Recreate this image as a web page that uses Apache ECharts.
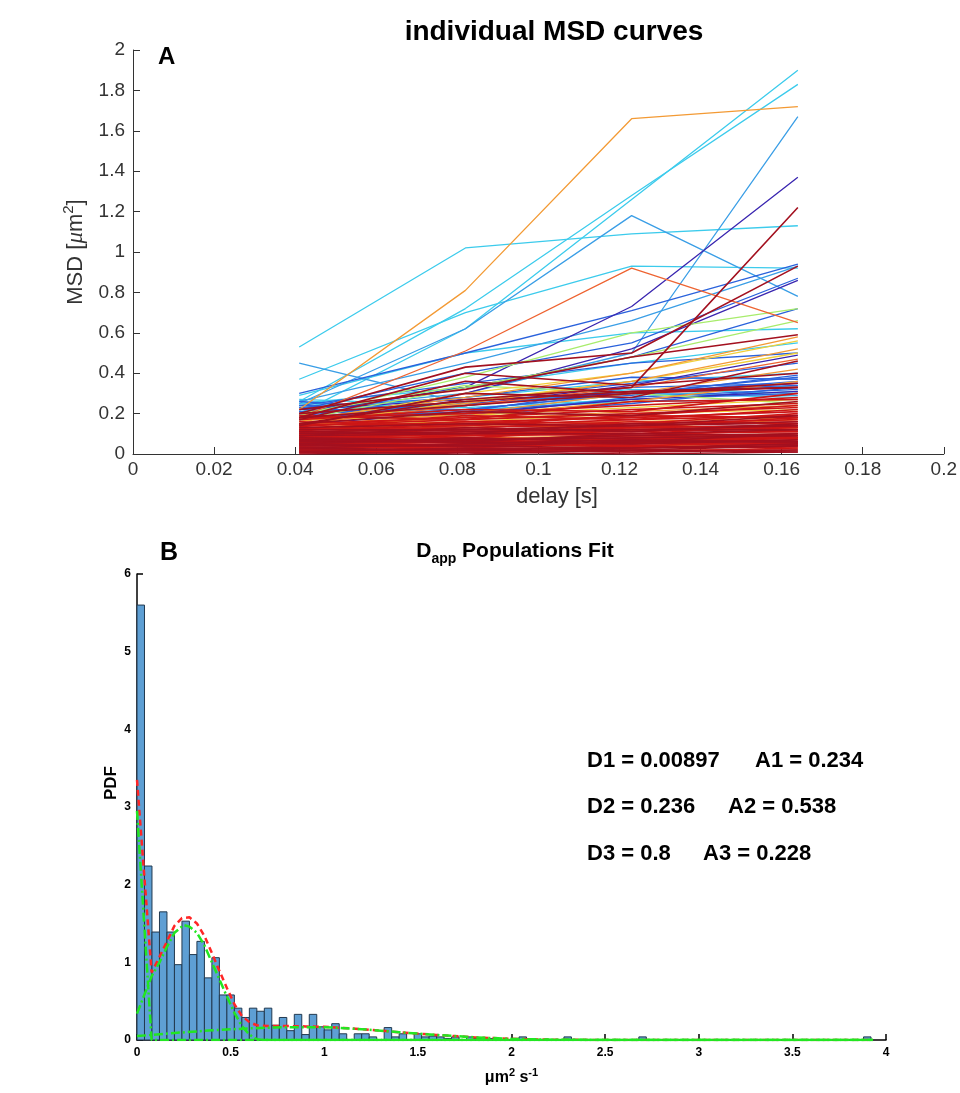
<!DOCTYPE html>
<html><head><meta charset="utf-8">
<script src="https://cdn.jsdelivr.net/npm/echarts@6/dist/echarts.min.js"></script>
<style>html,body{margin:0;padding:0;background:#fff}#c{width:960px;height:1093px}</style>
</head><body><div id="c"></div>
<script>
// ---------- Panel A data : MSD values at each delay ----------
const delays = [0.041, 0.082, 0.123, 0.164];

const msdCyan = [
  [0.20, 0.62, 1.26, 1.90],
  [0.26, 0.72, 1.28, 1.83],
  [0.53, 1.02, 1.09, 1.13],
  [0.37, 0.70, 0.93, 0.92],
  [0.29, 0.50, 0.60, 0.62],
  [0.25, 0.33, 0.45, 0.55],
  [0.22, 0.28, 0.36, 0.40],
  [0.27, 0.24, 0.32, 0.30],
  [0.24, 0.20, 0.28, 0.34],
  [0.21, 0.22, 0.26, 0.27],
  [0.25, 0.23, 0.27, 0.31],
  [0.22, 0.20, 0.30, 0.28]
];
const msdSky = [
  [0.45, 0.25, 0.30, 0.29],
  [0.25, 0.62, 1.18, 0.78],
  [0.22, 0.30, 0.50, 1.67],
  [0.26, 0.45, 0.66, 0.93]
];
const msdBlue = [
  [0.30, 0.50, 0.71, 0.94],
  [0.22, 0.40, 0.55, 0.87],
  [0.20, 0.33, 0.48, 0.72],
  [0.24, 0.35, 0.45, 0.50],
  [0.19, 0.26, 0.35, 0.45],
  [0.23, 0.28, 0.38, 0.37],
  [0.18, 0.22, 0.30, 0.36],
  [0.21, 0.19, 0.25, 0.33],
  [0.17, 0.21, 0.27, 0.30],
  [0.24, 0.22, 0.30, 0.38],
  [0.26, 0.21, 0.33, 0.35],
  [0.20, 0.24, 0.31, 0.34],
  [0.23, 0.19, 0.28, 0.32],
  [0.21, 0.25, 0.29, 0.39]
];
const msdNavy = [
  [0.20, 0.33, 0.73, 1.37],
  [0.16, 0.30, 0.52, 0.86],
  [0.18, 0.24, 0.34, 0.49],
  [0.22, 0.27, 0.30, 0.35],
  [0.15, 0.20, 0.27, 0.31]
];
const msdGreen = [
  [0.19, 0.38, 0.60, 0.72],
  [0.17, 0.33, 0.48, 0.66],
  [0.20, 0.34, 0.30, 0.25]
];
const msdYellow = [
  [0.16, 0.30, 0.40, 0.56],
  [0.14, 0.26, 0.36, 0.50],
  [0.08, 0.10, 0.12, 0.14],
  [0.17, 0.19, 0.23, 0.27],
  [0.14, 0.16, 0.20, 0.22]
];
const msdOrange = [
  [0.22, 0.81, 1.66, 1.72],
  [0.17, 0.28, 0.40, 0.58],
  [0.16, 0.25, 0.36, 0.52],
  [0.14, 0.20, 0.30, 0.42],
  [0.12, 0.19, 0.26, 0.36],
  [0.03, 0.04, 0.04, 0.05],
  [0.06, 0.08, 0.09, 0.10],
  [0.09, 0.09, 0.12, 0.13],
  [0.12, 0.15, 0.16, 0.18],
  [0.15, 0.17, 0.21, 0.24],
  [0.02, 0.05, 0.06, 0.08],
  [0.10, 0.14, 0.13, 0.17]
];
const msdOrangeRed = [
  [0.18, 0.51, 0.92, 0.65],
  [0.15, 0.24, 0.33, 0.47]
];
const msdRed = [
  [0.01, 0.01, 0.02, 0.02], [0.02, 0.03, 0.03, 0.04], [0.03, 0.04, 0.05, 0.05],
  [0.04, 0.05, 0.06, 0.07], [0.05, 0.06, 0.07, 0.08], [0.06, 0.07, 0.08, 0.10],
  [0.07, 0.09, 0.10, 0.11], [0.08, 0.10, 0.11, 0.13], [0.09, 0.11, 0.13, 0.14],
  [0.10, 0.12, 0.14, 0.16], [0.11, 0.13, 0.15, 0.17], [0.12, 0.14, 0.17, 0.19],
  [0.13, 0.16, 0.18, 0.21], [0.14, 0.17, 0.20, 0.23], [0.15, 0.18, 0.22, 0.25],
  [0.005, 0.02, 0.01, 0.03], [0.015, 0.02, 0.04, 0.03], [0.025, 0.05, 0.04, 0.06],
  [0.035, 0.03, 0.06, 0.05], [0.045, 0.06, 0.05, 0.08], [0.055, 0.08, 0.07, 0.09],
  [0.065, 0.06, 0.09, 0.08], [0.075, 0.10, 0.09, 0.12], [0.085, 0.08, 0.12, 0.11],
  [0.095, 0.12, 0.11, 0.15], [0.105, 0.10, 0.14, 0.13], [0.115, 0.15, 0.13, 0.18],
  [0.125, 0.13, 0.16, 0.15], [0.135, 0.19, 0.17, 0.22], [0.145, 0.15, 0.19, 0.18],
  [0.02, 0.01, 0.03, 0.05], [0.04, 0.07, 0.05, 0.09], [0.06, 0.04, 0.08, 0.06],
  [0.08, 0.11, 0.10, 0.14], [0.10, 0.09, 0.13, 0.12], [0.12, 0.16, 0.15, 0.20],
  [0.16, 0.14, 0.19, 0.24], [0.18, 0.20, 0.24, 0.28], [0.17, 0.22, 0.21, 0.30],
  [0.19, 0.17, 0.26, 0.27]
];
const msdDarkRed = [
  [0.15, 0.27, 0.33, 1.22], [0.20, 0.43, 0.50, 0.93], [0.18, 0.40, 0.34, 0.40],
  [0.17, 0.36, 0.30, 0.33], [0.14, 0.30, 0.28, 0.46], [0.22, 0.32, 0.48, 0.59],
  [0.00, 0.01, 0.00, 0.01], [0.01, 0.00, 0.02, 0.01], [0.02, 0.02, 0.01, 0.02],
  [0.03, 0.02, 0.03, 0.04], [0.04, 0.04, 0.03, 0.05], [0.05, 0.04, 0.06, 0.06],
  [0.06, 0.06, 0.05, 0.07], [0.07, 0.07, 0.08, 0.09], [0.08, 0.07, 0.09, 0.10],
  [0.09, 0.10, 0.10, 0.12], [0.10, 0.11, 0.12, 0.12], [0.11, 0.12, 0.12, 0.14],
  [0.12, 0.12, 0.14, 0.16], [0.01, 0.03, 0.02, 0.04], [0.03, 0.05, 0.07, 0.06],
  [0.05, 0.08, 0.06, 0.10], [0.07, 0.06, 0.10, 0.09], [0.09, 0.13, 0.11, 0.15],
  [0.11, 0.10, 0.15, 0.14], [0.13, 0.15, 0.14, 0.19], [0.15, 0.21, 0.19, 0.26],
  [0.18, 0.24, 0.30, 0.35], [0.20, 0.26, 0.31, 0.33]
];

// ---------- Panel B data ----------
const pdfBinWidth = 0.04;
const pdfHeights = [
  5.60, 2.24, 1.39, 1.65, 1.39, 0.97, 1.53, 1.10, 1.27, 0.80,
  1.06, 0.58, 0.58, 0.41, 0.29, 0.41, 0.37, 0.41, 0.19, 0.29,
  0.12, 0.33, 0.07, 0.33, 0.17, 0.13, 0.21, 0.08, 0.00, 0.08,
  0.08, 0.04, 0.00, 0.16, 0.04, 0.08, 0.00, 0.08, 0.04, 0.05,
  0.04, 0.02, 0.04, 0.00, 0.04, 0.02, 0.00, 0.02, 0.00, 0.00,
  0.00, 0.04, 0.00, 0.00, 0.00, 0.00, 0.00, 0.04, 0.00, 0.00,
  0.00, 0.00, 0.00, 0.00, 0.00, 0.00, 0.00, 0.04, 0.00, 0.00,
  0.00, 0.00, 0.00, 0.00, 0.00, 0.00, 0.00, 0.00, 0.00, 0.00,
  0.00, 0.00, 0.00, 0.00, 0.00, 0.00, 0.00, 0.00, 0.00, 0.00,
  0.00, 0.00, 0.00, 0.00, 0.00, 0.00, 0.00, 0.04, 0.00, 0.00
];
const fitTotal = [
  [0, 3.35], [0.078, 0.87], [0.12, 1.07], [0.16, 1.27], [0.20, 1.47], [0.24, 1.57],
  [0.28, 1.58], [0.32, 1.50], [0.36, 1.34], [0.40, 1.12], [0.44, 0.89], [0.48, 0.67],
  [0.52, 0.46], [0.56, 0.31], [0.60, 0.23], [0.64, 0.19], [0.70, 0.18], [0.80, 0.18],
  [0.90, 0.175], [1.0, 0.17], [1.2, 0.14], [1.4, 0.10], [1.6, 0.065], [1.8, 0.035],
  [2.0, 0.015], [2.2, 0.005], [2.5, 0], [3.93, 0]
];
const fitComp1 = [[0, 2.95], [0.078, 0.0], [3.93, 0]];
const fitComp2 = [
  [0, 0.34], [0.078, 0.82], [0.12, 1.0], [0.16, 1.2], [0.20, 1.38], [0.25, 1.48],
  [0.28, 1.46], [0.32, 1.38], [0.36, 1.22], [0.40, 1.0], [0.44, 0.78], [0.48, 0.56],
  [0.52, 0.35], [0.56, 0.18], [0.60, 0.07], [0.64, 0.01], [0.68, 0], [3.93, 0]
];
const fitComp3 = [
  [0, 0.05], [0.2, 0.09], [0.4, 0.125], [0.6, 0.15], [0.8, 0.165], [1.0, 0.165],
  [1.2, 0.14], [1.4, 0.10], [1.6, 0.065], [1.8, 0.035], [2.0, 0.015], [2.2, 0.005],
  [2.5, 0], [3.93, 0]
];
const fitDLabels = ['D1 = 0.00897', 'D2 = 0.236', 'D3 = 0.8'];
const fitALabels = ['A1 = 0.234', 'A2 = 0.538', 'A3 = 0.228'];

// ---------- styles ----------
const FONT = '"Liberation Sans", Arial, Helvetica, sans-serif';
const msdGroups = [
  [msdCyan, '#3ccbec', 1.3],
  [msdSky, '#3a9ee6', 1.3],
  [msdBlue, '#2a62dc', 1.3],
  [msdNavy, '#3a26b0', 1.3],
  [msdGreen, '#a8ec6c', 1.3],
  [msdYellow, '#f0cf3a', 1.3],
  [msdOrange, '#f39a34', 1.3],
  [msdOrangeRed, '#ee6432', 1.3],
  [msdRed, '#cc1616', 1.6],
  [msdDarkRed, '#a3101f', 1.6]
];

const series = [];
msdGroups.forEach(([rows, color, w]) => {
  rows.forEach(row => {
    series.push({
      type: 'line', xAxisIndex: 0, yAxisIndex: 0,
      data: row.map((v, i) => [delays[i], v]),
      showSymbol: false, silent: true, animation: false,
      lineStyle: { color: color, width: w }, z: 2
    });
  });
});

series.push({
  type: 'custom', xAxisIndex: 1, yAxisIndex: 1, silent: true, animation: false,
  data: pdfHeights.map((h, i) => [i * pdfBinWidth, (i + 1) * pdfBinWidth, h]),
  encode: { x: [0, 1], y: 2 },
  renderItem: (params, api) => {
    const h = api.value(2);
    if (!h) return { type: 'group', children: [] };
    const p0 = api.coord([api.value(0), h]);
    const p1 = api.coord([api.value(1), 0]);
    return {
      type: 'rect',
      shape: { x: p0[0], y: p0[1], width: p1[0] - p0[0], height: p1[1] - p0[1] },
      style: { fill: '#5e9fd4', stroke: '#22394f', lineWidth: 1 }
    };
  }, z: 2
});
const fitLine = (data, color, type, w, z) => ({
  type: 'line', xAxisIndex: 1, yAxisIndex: 1, data: data, showSymbol: false,
  silent: true, animation: false, z: z,
  lineStyle: { color: color, width: w, type: type }
});
series.push(fitLine(fitTotal, '#ff2626', [6, 4], 2.5, 3));
series.push(fitLine(fitComp1, '#22e622', [9, 3, 2, 3], 2.5, 4));
series.push(fitLine(fitComp2, '#22e622', [9, 3, 2, 3], 2.5, 4));
series.push(fitLine(fitComp3, '#22e622', [9, 3, 2, 3], 2.5, 4));

const graphics = [
  { type: 'text', left: 158, top: 45, style: { text: 'A', font: 'bold 24px ' + FONT, fill: '#000' } },
  { type: 'text', left: 160, top: 541, style: { text: 'B', font: 'bold 25px ' + FONT, fill: '#000' } },
  { type: 'text', x: 111, y: 783, rotation: Math.PI / 2,
    style: { text: 'PDF', font: 'bold 17px ' + FONT, fill: '#000', textAlign: 'center', textVerticalAlign: 'middle', align: 'center', verticalAlign: 'middle' } }
];
const dLeft = [587, 587, 587], aLeft = [755, 728, 703], rowTop = [750, 796, 843];
fitDLabels.forEach((t, i) => graphics.push({ type: 'text', left: dLeft[i], top: rowTop[i], style: { text: t, font: 'bold 22px ' + FONT, fill: '#000' } }));
fitALabels.forEach((t, i) => graphics.push({ type: 'text', left: aLeft[i], top: rowTop[i], style: { text: t, font: 'bold 22px ' + FONT, fill: '#000' } }));

const option = {
  backgroundColor: '#fff',
  animation: false,
  title: [
    { text: 'individual MSD curves', left: 549, top: 13, textAlign: 'center',
      textStyle: { fontFamily: FONT, fontSize: 28, fontWeight: 'bold', color: '#000' } },
    { text: 'delay [s]', left: 552, top: 481, textAlign: 'center',
      textStyle: { fontFamily: FONT, fontSize: 22, fontWeight: 'normal', color: '#333' } },
    { text: '{d|D}{s|app}{d| Populations Fit}', left: 510, top: 531, textAlign: 'center',
      textStyle: { rich: {
        d: { fontFamily: FONT, fontSize: 21, fontWeight: 'bold', color: '#000', lineHeight: 30 },
        s: { fontFamily: FONT, fontSize: 14, fontWeight: 'bold', color: '#000', lineHeight: 30, verticalAlign: 'bottom' }
      } } }
  ],
  grid: [
    { left: 133, right: 13, top: 50, bottom: 639, containLabel: false },
    { left: 137, right: 74, top: 574, bottom: 53, containLabel: false }
  ],
  xAxis: [
    { type: 'value', gridIndex: 0, min: 0, max: 0.2, interval: 0.02,
      axisLine: { show: true, onZero: false, lineStyle: { color: '#333', width: 1 } },
      axisTick: { show: true, inside: true, length: 7, lineStyle: { color: '#333' } },
      axisLabel: { fontFamily: FONT, fontSize: 19, color: '#333', margin: 6 },
      splitLine: { show: false } },
    { type: 'value', gridIndex: 1, min: 0, max: 4, interval: 0.5,
      axisLine: { show: true, onZero: false, lineStyle: { color: '#000', width: 1.5 } },
      axisTick: { show: true, inside: true, length: 6, lineStyle: { color: '#000', width: 1.5 } },
      axisLabel: { fontFamily: FONT, fontSize: 12, fontWeight: 'bold', color: '#000', margin: 7 },
      splitLine: { show: false },
      name: '{b|μm}{s|2}{b| s}{s|-1}', nameLocation: 'middle', nameGap: 27,
      nameTextStyle: { rich: {
        b: { fontFamily: FONT, fontSize: 16, fontWeight: 'bold', color: '#000', lineHeight: 22 },
        s: { fontFamily: FONT, fontSize: 11, fontWeight: 'bold', color: '#000', lineHeight: 22, verticalAlign: 'top' }
      } } }
  ],
  yAxis: [
    { type: 'value', gridIndex: 0, min: 0, max: 2, interval: 0.2,
      axisLine: { show: true, onZero: false, lineStyle: { color: '#333', width: 1 } },
      axisTick: { show: true, inside: true, length: 7, lineStyle: { color: '#333' } },
      axisLabel: { fontFamily: FONT, fontSize: 19, color: '#333', margin: 8 },
      splitLine: { show: false },
      name: '{a|MSD [}{m|μ}{a|m}{s|2}{a|]}', nameLocation: 'middle', nameGap: 40,
      nameTextStyle: { rich: {
        a: { fontFamily: FONT, fontSize: 22, color: '#333', lineHeight: 30 },
        m: { fontFamily: '"Liberation Serif", serif', fontStyle: 'italic', fontSize: 23, color: '#333', lineHeight: 30 },
        s: { fontFamily: FONT, fontSize: 15, color: '#333', lineHeight: 30, verticalAlign: 'top' }
      } } },
    { type: 'value', gridIndex: 1, min: 0, max: 6, interval: 1,
      axisLine: { show: true, onZero: false, lineStyle: { color: '#000', width: 1.5 } },
      axisTick: { show: true, inside: true, length: 6, lineStyle: { color: '#000', width: 1.5 } },
      axisLabel: { fontFamily: FONT, fontSize: 12, fontWeight: 'bold', color: '#000', margin: 6 },
      splitLine: { show: false } }
  ],
  graphic: graphics,
  series: series
};
const chart = echarts.init(document.getElementById('c'), null, { renderer: 'canvas' });
chart.setOption(option);
</script></body></html>
